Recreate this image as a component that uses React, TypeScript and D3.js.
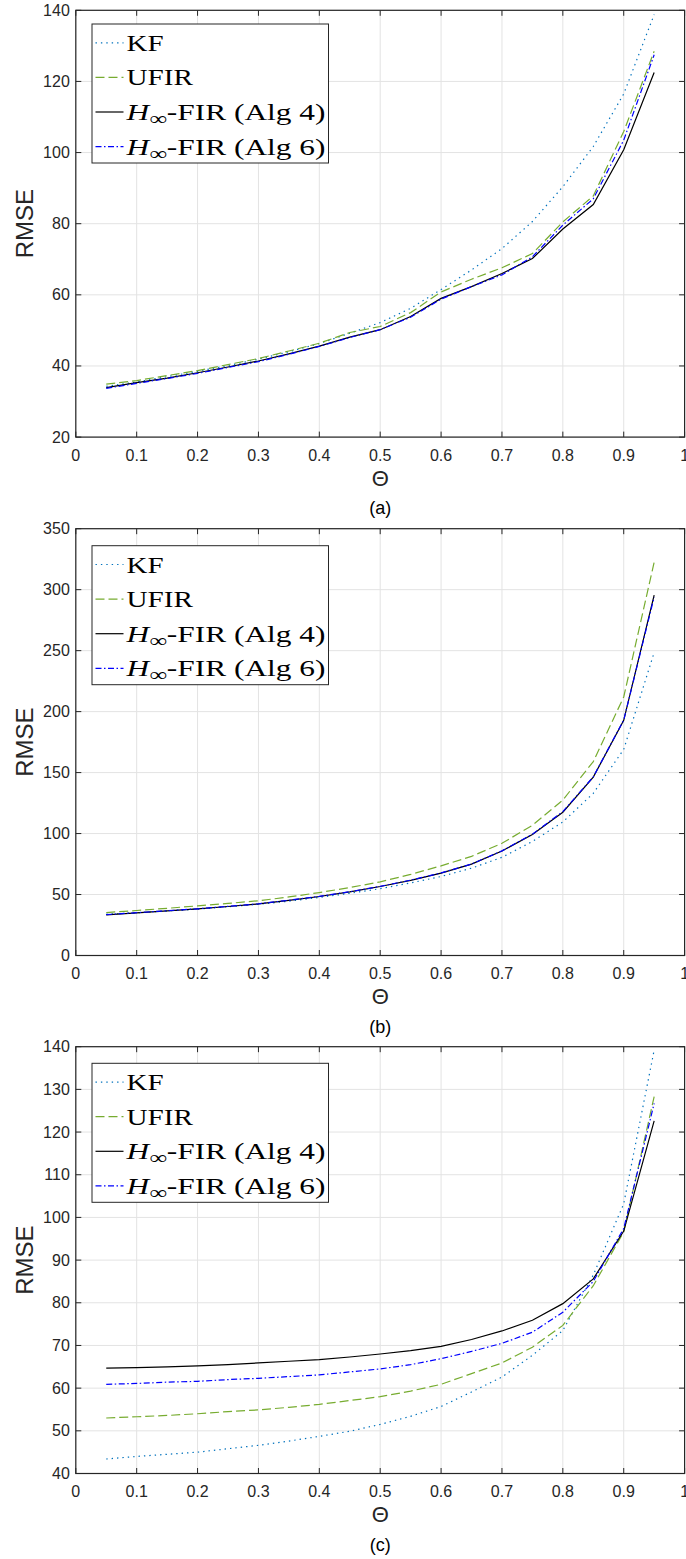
import React from "react";
import * as d3 from "d3";

// ---------- data ----------
const theta = [0.05, 0.1, 0.15, 0.2, 0.25, 0.3, 0.35, 0.4, 0.45, 0.5, 0.55, 0.6, 0.65, 0.7, 0.75, 0.8, 0.85, 0.9, 0.95];

const kfA = [34.3, 35.5, 37.0, 38.5, 40.1, 41.9, 44.0, 46.3, 49.2, 52.2, 56.2, 61.5, 67.0, 73.0, 80.6, 90.4, 101.7, 116.5, 138.8];
const ufirA = [34.9, 35.9, 37.3, 38.7, 40.4, 42.1, 44.2, 46.4, 49.4, 51.1, 55.0, 60.8, 64.4, 67.6, 71.6, 80.5, 87.8, 105.9, 128.5];
const alg4A = [33.9, 35.3, 36.6, 38.1, 39.7, 41.4, 43.4, 45.6, 48.1, 50.2, 53.9, 59.0, 62.3, 66.0, 70.2, 78.5, 85.4, 100.8, 122.5];
const alg6A = [33.7, 35.1, 36.5, 37.9, 39.6, 41.2, 43.3, 45.5, 48.0, 50.2, 53.7, 58.8, 62.3, 65.6, 70.7, 79.6, 87.0, 103.5, 127.5];

const kfB = [33.8, 35.0, 36.5, 38.0, 40.0, 42.0, 44.5, 47.6, 51.0, 54.8, 59.5, 64.8, 71.6, 80.5, 93.5, 109.5, 133.0, 169.0, 248.5];
const ufirB = [35.2, 36.9, 38.7, 40.7, 42.7, 44.9, 48.0, 51.6, 55.7, 60.4, 66.5, 73.5, 81.3, 92.0, 106.8, 127.5, 159.0, 212.0, 322.5];
const alg4B = [33.3, 35.0, 36.6, 38.2, 40.2, 42.3, 45.2, 48.4, 52.2, 56.6, 61.6, 67.5, 74.9, 85.7, 99.3, 117.5, 146.3, 192.8, 295.5];
const alg6B = [33.5, 35.1, 36.7, 38.3, 40.3, 42.4, 45.3, 48.5, 52.3, 56.7, 61.8, 67.7, 75.0, 85.8, 99.5, 118.0, 146.5, 193.0, 294.0];

const kfC = [43.4, 44.0, 44.5, 45.0, 45.8, 46.6, 47.6, 48.7, 49.9, 51.5, 53.4, 55.7, 59.1, 62.6, 67.7, 73.5, 86.5, 103.2, 139.2];
const ufirC = [53.0, 53.3, 53.6, 54.0, 54.5, 54.9, 55.5, 56.2, 57.1, 58.0, 59.3, 60.9, 63.4, 65.9, 69.6, 74.7, 84.0, 96.6, 128.3];
const alg4C = [64.7, 64.8, 65.0, 65.2, 65.5, 65.9, 66.3, 66.7, 67.3, 68.0, 68.8, 69.8, 71.4, 73.4, 75.9, 79.8, 85.6, 96.8, 122.6];
const alg6C = [60.9, 61.1, 61.4, 61.6, 62.0, 62.3, 62.7, 63.1, 63.8, 64.5, 65.5, 66.9, 68.6, 70.5, 73.1, 77.8, 85.0, 97.4, 126.7];

const xTicks = [0, 0.1, 0.2, 0.3, 0.4, 0.5, 0.6, 0.7, 0.8, 0.9, 1];
const xTickLabels = ["0", "0.1", "0.2", "0.3", "0.4", "0.5", "0.6", "0.7", "0.8", "0.9", "1"];
const yTicksA = [20, 40, 60, 80, 100, 120, 140];
const yTicksB = [0, 50, 100, 150, 200, 250, 300, 350];
const yTicksC = [40, 50, 60, 70, 80, 90, 100, 110, 120, 130, 140];

const panelLabels = ["(a)", "(b)", "(c)"];
const seriesNames = ["KF", "UFIR", "Alg 4", "Alg 6"];
const xLabel = "Θ";
const yLabel = "RMSE";

// ---------- styles ----------
const seriesStyle = [
  { color: "#0072BD", dash: "1.4,4", width: 1.2 },
  { color: "#77AC30", dash: "9,4", width: 1.2 },
  { color: "#000000", dash: "", width: 1.2 },
  { color: "#0000FF", dash: "6,2.5,1.5,2.5", width: 1.2 },
];

const W = 686;
const H = 1559;
const X0 = 75.8;
const X1 = 684.6;
const PANEL_TOP = [10.3, 528.7, 1046.7];
const PANEL_H = 426.8;
const LEGEND_TOP = [13.7, 17, 16.6];
const AXIS = "#262626";
const GRID = "#e3e3e3";

const panels = [
  { yDomain: [20, 140], yTicks: yTicksA, series: [kfA, ufirA, alg4A, alg6A] },
  { yDomain: [0, 350], yTicks: yTicksB, series: [kfB, ufirB, alg4B, alg6B] },
  { yDomain: [40, 140], yTicks: yTicksC, series: [kfC, ufirC, alg4C, alg6C] },
];

function LegendLabel({ name, x, y }: { name: string; x: number; y: number }) {
  const common = {
    fontFamily: "'Liberation Serif', 'Times New Roman', serif",
    fontSize: 24,
    fill: "#000",
  };
  if (name === "KF") {
    return <text x={x} y={y} {...common} textLength={37} lengthAdjust="spacingAndGlyphs">KF</text>;
  }
  if (name === "UFIR") {
    return <text x={x} y={y} {...common} textLength={66.5} lengthAdjust="spacingAndGlyphs">UFIR</text>;
  }
  return (
    <text x={x} y={y} {...common} textLength={199} lengthAdjust="spacingAndGlyphs">
      <tspan fontStyle="italic">H</tspan>
      <tspan fontSize={19} dy={5}>∞</tspan>
      <tspan dy={-5}>{`-FIR (${name})`}</tspan>
    </text>
  );
}

function Panel({ idx }: { idx: number }) {
  const p = panels[idx];
  const top = PANEL_TOP[idx];
  const bottom = top + PANEL_H;
  const x = d3.scaleLinear().domain([0, 1]).range([X0, X1]);
  const y = d3.scaleLinear().domain(p.yDomain).range([bottom, top]);
  const line = d3
    .line<number>()
    .x((_, i) => x(theta[i]))
    .y((d) => y(d));
  const tick = 5.5;
  const lgTop = top + LEGEND_TOP[idx];
  const lgX0 = 92;
  const lgX1 = 328.5;
  const lgH = 139;
  const midY = (top + bottom) / 2;
  const sans = "'Liberation Sans', Arial, Helvetica, sans-serif";

  return (
    <g>
      {/* grid */}
      {xTicks.map((t) => (
        <line key={"gx" + t} x1={x(t)} x2={x(t)} y1={top} y2={bottom} stroke={GRID} strokeWidth={1} />
      ))}
      {p.yTicks.map((t) => (
        <line key={"gy" + t} x1={X0} x2={X1} y1={y(t)} y2={y(t)} stroke={GRID} strokeWidth={1} />
      ))}
      {/* series */}
      <defs>
        <clipPath id={"clip" + idx}>
          <rect x={X0} y={top} width={X1 - X0} height={PANEL_H} />
        </clipPath>
      </defs>
      <g clipPath={`url(#clip${idx})`}>
        {p.series.map((s, i) => (
          <path
            key={i}
            d={line(s) || ""}
            fill="none"
            stroke={seriesStyle[i].color}
            strokeWidth={seriesStyle[i].width}
            strokeDasharray={seriesStyle[i].dash || undefined}
          />
        ))}
      </g>
      {/* ticks */}
      {xTicks.map((t) => (
        <g key={"tx" + t}>
          <line x1={x(t)} x2={x(t)} y1={bottom} y2={bottom - tick} stroke={AXIS} strokeWidth={1} />
          <line x1={x(t)} x2={x(t)} y1={top} y2={top + tick} stroke={AXIS} strokeWidth={1} />
        </g>
      ))}
      {p.yTicks.map((t) => (
        <g key={"ty" + t}>
          <line x1={X0} x2={X0 + tick} y1={y(t)} y2={y(t)} stroke={AXIS} strokeWidth={1} />
          <line x1={X1} x2={X1 - tick} y1={y(t)} y2={y(t)} stroke={AXIS} strokeWidth={1} />
        </g>
      ))}
      {/* box */}
      <rect x={X0} y={top} width={X1 - X0} height={PANEL_H} fill="none" stroke={AXIS} strokeWidth={1.2} />
      {/* tick labels */}
      {xTicks.map((t, i) => (
        <text key={"lx" + t} x={x(t)} y={bottom + 18} textAnchor="middle" dominantBaseline="central" fontFamily={sans} fontSize={16} fill={AXIS}>
          {xTickLabels[i]}
        </text>
      ))}
      {p.yTicks.map((t) => (
        <text key={"ly" + t} x={X0 - 6} y={y(t)} textAnchor="end" dominantBaseline="central" fontFamily={sans} fontSize={16} fill={AXIS}>
          {String(t)}
        </text>
      ))}
      {/* axis labels */}
      <text x={(X0 + X1) / 2} y={bottom + 41} textAnchor="middle" dominantBaseline="central" fontFamily={sans} fontSize={22} fill={AXIS}>
        {xLabel}
      </text>
      <text
        transform={`translate(24,${midY}) rotate(-90)`}
        textAnchor="middle"
        dominantBaseline="central"
        fontFamily={sans}
        fontSize={24}
        fill={AXIS}
      >
        {yLabel}
      </text>
      <text x={(X0 + X1) / 2} y={bottom + 71} textAnchor="middle" dominantBaseline="central" fontFamily={sans} fontSize={18} fill="#000">
        {panelLabels[idx]}
      </text>
      {/* legend */}
      <rect x={lgX0} y={lgTop} width={lgX1 - lgX0} height={lgH} fill="#fff" stroke={AXIS} strokeWidth={1} />
      {seriesNames.map((n, i) => {
        const cy = lgTop + 18.8 + 34.6 * i;
        return (
          <g key={n}>
            <line
              x1={95.5}
              x2={123.5}
              y1={cy}
              y2={cy}
              stroke={seriesStyle[i].color}
              strokeWidth={seriesStyle[i].width}
              strokeDasharray={seriesStyle[i].dash || undefined}
            />
            <LegendLabel name={n} x={126.5} y={cy + 8} />
          </g>
        );
      })}
    </g>
  );
}

export default function App() {
  return (
    <svg
      width={W}
      height={H}
      viewBox={`0 0 ${W} ${H}`}
      style={{ position: "absolute", left: 0, top: 0, background: "#fff" }}
    >
      <rect x={0} y={0} width={W} height={H} fill="#fff" />
      <Panel idx={0} />
      <Panel idx={1} />
      <Panel idx={2} />
    </svg>
  );
}
